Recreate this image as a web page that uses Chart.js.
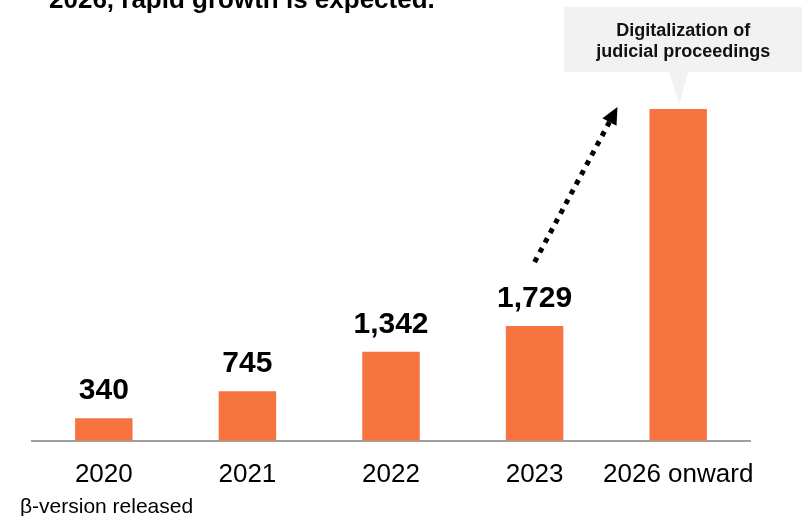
<!DOCTYPE html>
<html>
<head>
<meta charset="utf-8">
<script src="https://cdn.jsdelivr.net/npm/chart.js@4.4.0/dist/chart.umd.min.js"></script>
<style>
  html, body { margin: 0; padding: 0; background: #fff; }
  #wrap { width: 806px; height: 516px; }
</style>
</head>
<body>
<div id="wrap"><canvas id="usage-bar-chart" width="806" height="516"></canvas></div>
<script>
const years = ['2020', '2021', '2022', '2023', '2026 onward'];
const cases = [340, 745, 1342, 1729, 5000];
const valueLabels = ['340', '745', '1,342', '1,729', null];
const titleText = '2026, rapid growth is expected.';
const calloutLines = ['Digitalization of', 'judicial proceedings'];
const footNote = '\u03b2-version released';

const FONT = "'Liberation Sans', Arial, sans-serif";

// labels, callout, arrow and the cut-off headline
const decorations = {
    id: 'decorations',
    afterDatasetsDraw(chart) {
        const ctx = chart.ctx;
        const bars = chart.getDatasetMeta(0).data;
        ctx.save();

        // value labels above bars
        ctx.fillStyle = '#000';
        ctx.font = 'bold 30px ' + FONT;
        ctx.textAlign = 'center';
        ctx.textBaseline = 'alphabetic';
        bars.forEach(function(bar, i) {
            if (valueLabels[i]) ctx.fillText(valueLabels[i], bar.x, bar.y - 19);
        });

        // headline (top is cut off in the original)
        ctx.textAlign = 'left';
        ctx.font = 'bold 26px ' + FONT;
        ctx.fillText(titleText, 49, 8);

        // footnote under 2020
        ctx.font = '21px ' + FONT;
        ctx.fillText(footNote, 20, 513);

        // callout over the last bar
        const last = bars[bars.length - 1];
        const cx = last.x + 5;
        const boxW = 238, boxTop = 7, boxBottom = 72;
        ctx.fillStyle = '#f2f2f2';
        ctx.fillRect(cx - boxW / 2, boxTop, boxW, boxBottom - boxTop);
        ctx.beginPath();
        ctx.moveTo(last.x - 9, boxBottom);
        ctx.lineTo(last.x + 10, boxBottom);
        ctx.lineTo(last.x + 1, last.y - 4);
        ctx.closePath();
        ctx.fill();
        ctx.fillStyle = '#111';
        ctx.font = 'bold 18px ' + FONT;
        ctx.textAlign = 'center';
        ctx.fillText(calloutLines[0], cx, 36);
        ctx.fillText(calloutLines[1], cx, 57);

        // dotted arrow from 2023 to 2026
        const from = bars[3];
        const x0 = from.x, y0 = from.y - 64;
        const x1 = last.x - last.width / 2 - 32, y1 = last.y - 2;
        const ang = Math.atan2(y1 - y0, x1 - x0);
        const head = 17;
        const lx = x1 - Math.cos(ang) * head, ly = y1 - Math.sin(ang) * head;
        ctx.strokeStyle = '#000';
        ctx.lineWidth = 5;
        ctx.setLineDash([5, 6]);
        ctx.beginPath();
        ctx.moveTo(x0, y0);
        ctx.lineTo(lx, ly);
        ctx.stroke();
        ctx.setLineDash([]);
        ctx.fillStyle = '#000';
        ctx.beginPath();
        ctx.moveTo(x1, y1);
        ctx.lineTo(lx + Math.cos(ang + Math.PI / 2) * 8, ly + Math.sin(ang + Math.PI / 2) * 8);
        ctx.lineTo(lx + Math.cos(ang - Math.PI / 2) * 8, ly + Math.sin(ang - Math.PI / 2) * 8);
        ctx.closePath();
        ctx.fill();

        ctx.restore();
    }
};

const ctx = document.getElementById('usage-bar-chart').getContext('2d');
const myChart = new Chart(ctx, {
    type: 'bar',
    data: {
        labels: years,
        datasets: [{
            data: cases,
            backgroundColor: '#f77340',
            barPercentage: 0.4,
            categoryPercentage: 1.0
        }]
    },
    options: {
        responsive: false,
        animation: false,
        layout: {
            padding: { left: 32, right: 56, top: 109, bottom: 8 }
        },
        plugins: {
            legend: { display: false },
            tooltip: { enabled: false }
        },
        scales: {
            x: {
                grid: { display: false, drawTicks: false },
                border: { display: true, color: '#a0a0a0', width: 2 },
                ticks: {
                    color: '#000',
                    padding: 18,
                    maxRotation: 0,
                    minRotation: 0,
                    autoSkip: false,
                    font: { family: FONT, size: 26 }
                }
            },
            y: {
                display: false,
                min: 0,
                max: 5000
            }
        }
    },
    plugins: [decorations]
});
</script>
</body>
</html>
